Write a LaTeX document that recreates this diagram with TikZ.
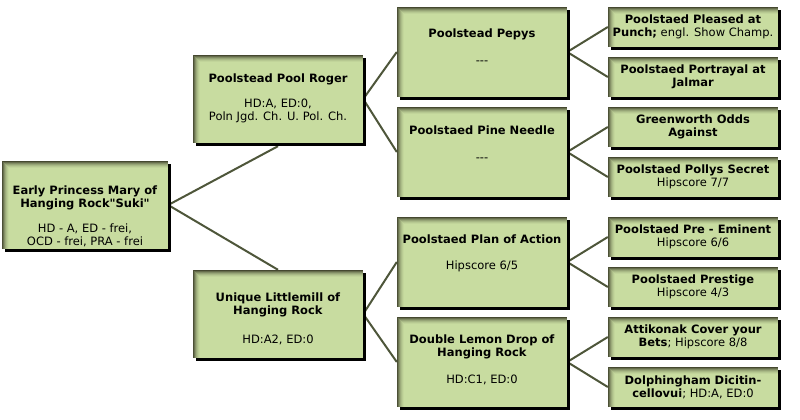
\documentclass[tikz,border=0pt]{standalone}
\usepackage{fontspec}
\setmainfont{DejaVu Sans}[Ligatures=TeXOff]
\pgfdeclarelayer{background}
\pgfsetlayers{background,main}
\definecolor{boxfill}{RGB}{200,220,160}
\definecolor{bevel}{RGB}{62,64,42}
\definecolor{wire}{RGB}{78,86,58}
\tikzset{
  pbox/.style={draw=none, fill=boxfill, inner sep=0pt, rectangle,
    preaction={fill=black, transform canvas={xshift=3pt,yshift=-3pt}},
    path picture={
      \foreach \i/\p in {0/95,1/72,2/52,3/36,4/23,5/13,6/5}{
        \fill[bevel!\p!boxfill]
          ([yshift=-\i pt]path picture bounding box.north west) rectangle ([yshift={-(\i+1)*1pt}]path picture bounding box.north east);
      }
      \foreach \i/\p in {0/90,1/68,2/48,3/32,4/20,5/11,6/4}{
        \fill[bevel!\p!boxfill]
          ([xshift=\i pt,yshift=-\i pt]path picture bounding box.north west) rectangle ([xshift={(\i+1)*1pt}]path picture bounding box.south west);
      }
    }},
  bigbox/.style={pbox, minimum width=170pt, minimum height=88pt},
  rootbox/.style={pbox, minimum width=166pt, minimum height=88pt},
  midbox/.style={pbox, minimum width=170pt, minimum height=90pt},
  leafbox/.style={pbox, minimum width=170pt, minimum height=40pt},
  txt/.style={inner sep=0pt, align=center, font=\fontsize{11.5}{13}\selectfont, text=black},
  wirel/.style={draw=wire, line width=2pt}
}
\begin{document}
\begin{tikzpicture}[x=1pt,y=1pt]
\useasboundingbox (0,0) rectangle (800,-420);
% boxes
\node[rootbox] (root) at (85,-205) {};
\node[bigbox] (pr) at (278,-99) {};
\node[bigbox] (un) at (278,-314) {};
\node[midbox] (pe) at (482,-52) {};
\node[midbox] (pn) at (482,-152) {};
\node[midbox] (pa) at (482,-262) {};
\node[midbox] (dl) at (482,-362) {};
\node[leafbox] (l1) at (693,-27) {};
\node[leafbox] (l2) at (693,-77) {};
\node[leafbox] (l3) at (693,-127) {};
\node[leafbox] (l4) at (693,-177) {};
\node[leafbox] (l5) at (693,-237) {};
\node[leafbox] (l6) at (693,-287) {};
\node[leafbox] (l7) at (693,-337) {};
\node[leafbox] (l8) at (693,-387) {};
% texts
\node[txt] (troot) at (85,-216) {\textbf{Early Princess Mary of}\\\textbf{Hanging Rock"Suki"}\\[12pt]HD - A, ED - frei,\\OCD - frei, PRA - frei};
\node[txt] (tpr) at (278,-98) {\textbf{Poolstead Pool Roger}\\[12pt]HD:A, ED:0,\\Poln Jgd. Ch. U. Pol. Ch.};
\node[txt] (tun) at (278,-319) {\textbf{Unique Littlemill of}\\\textbf{Hanging Rock}\\[16pt]HD:A2, ED:0};
\node[txt] (tpe) at (482,-46.5) {\textbf{Poolstead Pepys}\\[14pt]-{}-{}-};
\node[txt] (tpn) at (482,-143.5) {\textbf{Poolstaed Pine Needle}\\[14pt]-{}-{}-};
\node[txt] (tpa) at (482,-253) {\textbf{Poolstaed Plan of Action}\\[13pt]Hipscore 6/5};
\node[txt] (tdl) at (482,-360) {\textbf{Double Lemon Drop of}\\\textbf{Hanging Rock}\\[14pt]HD:C1, ED:0};
\node[txt] (tl1) at (l1) {\textbf{Poolstaed Pleased at}\\\textbf{Punch;} engl. Show Champ.};
\node[txt] (tl2) at (l2) {\textbf{Poolstaed Portrayal at}\\\textbf{Jalmar}};
\node[txt] (tl3) at (l3) {\textbf{Greenworth Odds}\\\textbf{Against}};
\node[txt] (tl4) at (l4) {\textbf{Poolstaed Pollys Secret}\\Hipscore 7/7};
\node[txt] (tl5) at (l5) {\textbf{Poolstaed Pre - Eminent}\\Hipscore 6/6};
\node[txt] (tl6) at (l6) {\textbf{Poolstaed Prestige}\\Hipscore 4/3};
\node[txt] (tl7) at (l7) {\textbf{Attikonak Cover your}\\\textbf{Bets}; Hipscore 8/8};
\node[txt] (tl8) at (l8) {\textbf{Dolphingham Dicitin-}\\\textbf{cellovui}; HD:A, ED:0};
% connectors
\begin{pgfonlayer}{background}
\draw[wirel] (root.east) -- ([yshift=-3pt]pr.south);
\draw[wirel] (root.east) -- (un.north);
\draw[wirel] (pr.east) -- (pe.west);
\draw[wirel] (pr.east) -- (pn.west);
\draw[wirel] (un.east) -- (pa.west);
\draw[wirel] (un.east) -- (dl.west);
\draw[wirel] (pe.east) -- (l1.west);
\draw[wirel] (pe.east) -- (l2.west);
\draw[wirel] (pn.east) -- (l3.west);
\draw[wirel] (pn.east) -- (l4.west);
\draw[wirel] (pa.east) -- (l5.west);
\draw[wirel] (pa.east) -- (l6.west);
\draw[wirel] (dl.east) -- (l7.west);
\draw[wirel] (dl.east) -- (l8.west);
\end{pgfonlayer}
\end{tikzpicture}
\end{document}
